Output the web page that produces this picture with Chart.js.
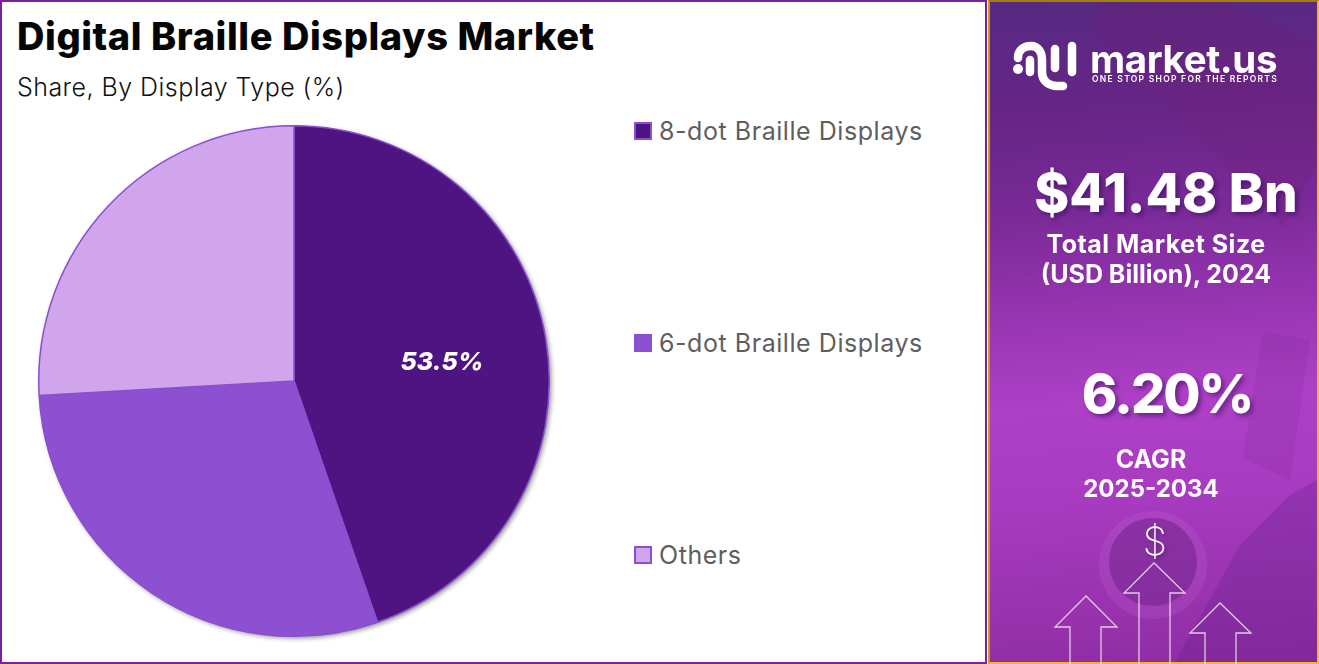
<!DOCTYPE html>
<html>
<head>
<meta charset="utf-8">
<script src="https://cdn.jsdelivr.net/npm/chart.js"></script>
<style>
  html, body { margin: 0; padding: 0; background: #fff; }
  body { width: 1319px; height: 664px; overflow: hidden; position: relative; font-family: Inter, sans-serif; }
  #left { position: absolute; left: 0; top: 0; width: 983px; height: 660px; border: 2px solid #7b1fa2; }
  #right { position: absolute; left: 988px; top: 0; width: 331px; height: 664px; overflow: hidden; box-sizing: border-box;
    border-top: 2px solid #a67c10; border-left: 2px solid #c89a1a; border-right: 2px solid #f4b81f; border-bottom: 2px solid #f4b81f;
    background: linear-gradient(176deg, #562a82 0%, #662585 16%, #7a2a98 32%, #9a36b4 48%, #ad40c6 60%, #a83bc0 74%, #8f2da2 100%); }
  #pie-wrap { position: absolute; left: 24px; top: 110.5px; width: 540px; height: 540px; }
  .t { position: absolute; white-space: nowrap; line-height: 1; }
  .c { transform: translateX(-50%); color: #fff; font-weight: 700; }
  .legend-item { position: absolute; left: 634px; height: 20px; }
  .legend-box { position: absolute; left: 0; top: 0; border: 2px solid #8a4fd0; width: 14px; height: 14px; }
  .legend-label { position: absolute; left: 25px; top: -4px; font-size: 25px; color: #5e5e5e; white-space: nowrap; line-height: 1.1; letter-spacing: .55px; }
  #art { position: absolute; left: 0; top: 0; }
</style>
</head>
<body>
<div id="left"></div>
<div class="t" style="left:17px;top:17px;font-size:38px;font-weight:800;color:#050505;letter-spacing:.58px">Digital Braille Displays Market</div>
<div class="t" style="left:17px;top:75px;font-size:25px;font-weight:300;color:#111;letter-spacing:.45px">Share, By Display Type (%)</div>
<div id="pie-wrap"><canvas id="pie"></canvas></div>
<div id="legend"></div>

<div id="right"></div>
<svg id="art" width="1319" height="664" viewBox="0 0 1319 664">
  <polygon points="1087,23 1103,3 1223,2 1316,43 1316,167 1283,227 1190,127" fill="#701f78" fill-opacity=".28"/>
  <polygon points="1263,332 1243,457 1290,480 1310,340" fill="#7a2590" fill-opacity=".18"/>
  <polygon points="1175,662 1240,545 1290,495 1317,480 1317,662" fill="#5f1f88" fill-opacity=".28"/>
  <circle cx="1153" cy="565" r="54" fill="#c265d4" fill-opacity=".22"/>
  <circle cx="1153" cy="562" r="44" fill="#6a2088" fill-opacity=".5"/>
  <!-- logo mark -->
  <g fill="none" stroke="#fff" stroke-width="8.500" stroke-linecap="round" stroke-linejoin="round">
    <path d="M1018 58 C1018 50 1024 46 1031 46 C1038 46 1042 52 1042 60 V72 C1042 82 1050 86 1057 86 H1063"/>
    <path d="M1030 60 V72"/>
    <path d="M1055 49 V68"/>
    <path d="M1072 46 V72"/>
  </g>
  <circle cx="1018" cy="69" r="5" fill="#fff"/>
  <!-- arrows -->
  <g fill="none" stroke="#fff" stroke-opacity=".75" stroke-width="1.3">
    <polyline points="1070,664 1070,627 1055,627 1086,596 1117,627 1101,627 1101,664"/>
    <polyline points="1139,664 1139,593 1124,593 1154,563 1185,593 1170,593 1170,664"/>
    <polyline points="1205,664 1205,633 1190,633 1220,603 1251,633 1236,633 1236,664"/>
  </g>
</svg>
<div class="t" style="left:1090px;top:40px;font-size:38.500px;font-weight:700;color:#fff;letter-spacing:-.4px">market.us</div>
<div class="t" style="left:1092px;top:75px;font-size:8.500px;font-weight:600;color:#fff;letter-spacing:1.27px">ONE STOP SHOP FOR THE REPORTS</div>
<div class="t c" style="left:1166px;top:167px;font-size:53px;font-weight:800;text-shadow:3px 3px 4px rgba(50,10,90,.5)">$41.48 Bn</div>
<div class="t c" style="left:1156px;top:232px;font-size:25px;letter-spacing:.5px">Total Market Size</div>
<div class="t c" style="left:1156px;top:262px;font-size:25px">(USD Billion), 2024</div>
<div class="t c" style="left:1167px;top:367px;font-size:54px;font-weight:800;letter-spacing:-2px;text-shadow:3px 3px 4px rgba(50,10,90,.5)">6.20%</div>
<div class="t c" style="left:1151px;top:447px;font-size:25px">CAGR</div>
<div class="t c" style="left:1151px;top:477px;font-size:24px">2025-2034</div>
<div class="t c" style="left:1155px;top:521px;font-size:39px;font-weight:200;text-shadow:2px 2px 3px rgba(50,10,90,.4)">$</div>

<script>
const categories = ['8-dot Braille Displays', '6-dot Braille Displays', 'Others'];
const shares = [44.7, 29.4, 25.9];
const sliceLabels = ['53.5%', '', ''];
const sliceColors = ['#4e1582', '#8c50d0', '#d1a5ec'];
const legendTops = [122, 334, 546];

// legend sits apart from the pie with wide gaps, so it is built by hand
const legend = document.getElementById('legend');
categories.forEach((name, i) => {
    const item = document.createElement('div');
    item.className = 'legend-item';
    item.style.top = legendTops[i] + 'px';
    item.innerHTML = `<div class="legend-box" style="background:${sliceColors[i]}"></div><div class="legend-label">${name}</div>`;
    legend.appendChild(item);
});

const pieDecor = {
    id: 'pieDecor',
    beforeDatasetsDraw(chart) {
        const arc = chart.getDatasetMeta(0).data[0];
        const ctx = chart.ctx;
        ctx.save();
        ctx.shadowColor = 'rgba(0,0,0,0.45)';
        ctx.shadowBlur = 5;
        ctx.shadowOffsetX = 2;
        ctx.shadowOffsetY = 2;
        ctx.fillStyle = '#8a4fd0';
        ctx.beginPath();
        ctx.arc(arc.x, arc.y, arc.outerRadius, 0, Math.PI * 2);
        ctx.fill();
        ctx.restore();
    },
    afterDatasetsDraw(chart) {
        const ctx = chart.ctx;
        chart.getDatasetMeta(0).data.forEach((arc, i) => {
            if (!sliceLabels[i]) return;
            const mid = (arc.startAngle + arc.endAngle) / 2;
            const r = arc.outerRadius * 0.58;
            ctx.save();
            ctx.font = 'italic 800 25px Inter, sans-serif';
            ctx.fillStyle = '#fff';
            ctx.textAlign = 'center';
            ctx.textBaseline = 'middle';
            // label sits a little below the slice's mid angle in the original
            ctx.fillText(sliceLabels[i], arc.x + Math.cos(mid) * r + 2, arc.y + Math.sin(mid) * r + 6);
            ctx.restore();
        });
    }
};

new Chart(document.getElementById('pie').getContext('2d'), {
    type: 'pie',
    data: {
        labels: categories,
        datasets: [{
            data: shares,
            backgroundColor: sliceColors,
            borderColor: '#8a4fd0',
            borderWidth: 1.5
        }]
    },
    options: {
        responsive: true,
        maintainAspectRatio: false,
        animation: false,
        layout: { padding: 14 },
        plugins: {
            legend: { display: false },
            tooltip: { enabled: false }
        }
    },
    plugins: [pieDecor]
});
</script>
</body>
</html>
